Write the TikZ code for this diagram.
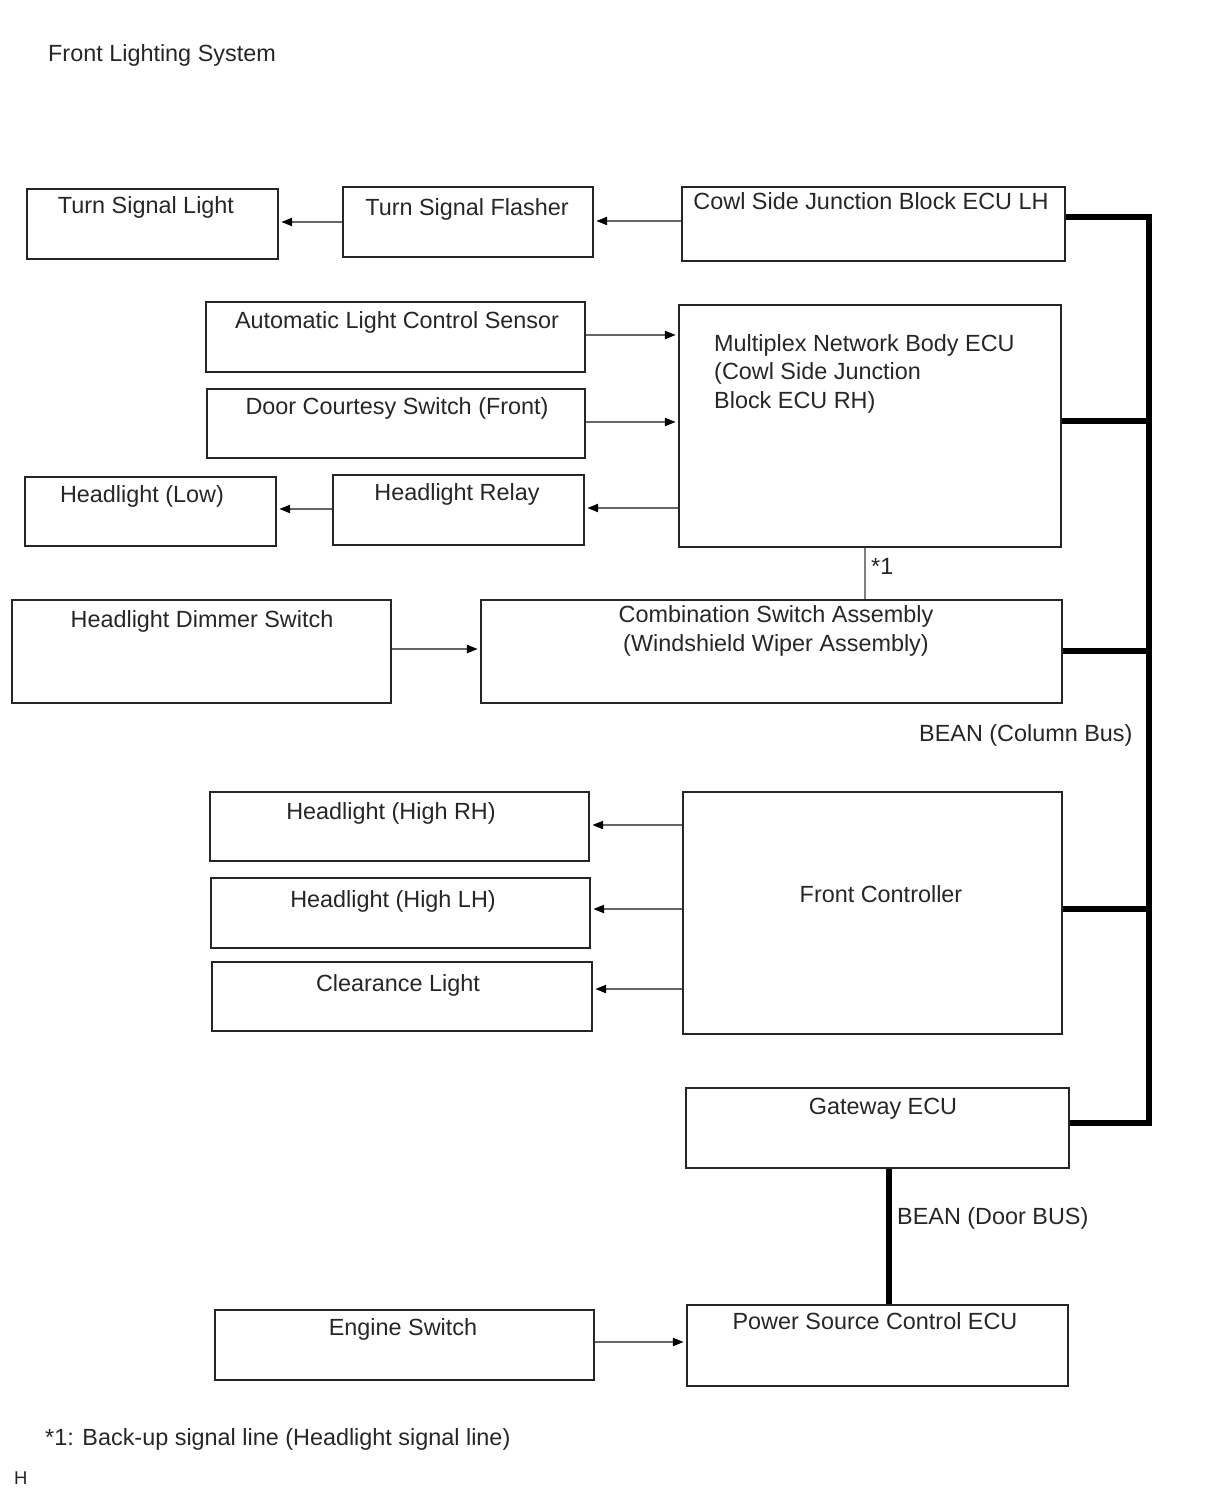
\documentclass[tikz,border=0pt]{standalone}
\usepackage{fontspec}
\setmainfont{Liberation Sans}
\usetikzlibrary{arrows.meta,fit}
\begin{document}
\begin{tikzpicture}[x=1pt,y=-1pt,
  box/.style={draw=black!85,line width=2.4pt,inner sep=0pt},
  txt/.style={font=\fontsize{23.4}{28.5}\selectfont,text=black!85,inner sep=0pt},
  arr/.style={draw=black!60,line width=2.2pt,-{Triangle[length=11pt,width=8pt,color=black]},shorten >=2pt},
  sig/.style={draw=black!50,line width=2.2pt},
  bus/.style={draw=black,line width=5.5pt}]
\useasboundingbox (0,0) rectangle (1210,1498);
% boxes
\node[box,fit={(27,189) (278,259)}] (tsl) {};
\node[box,fit={(343,187) (593,257)}] (tsf) {};
\node[box,fit={(682,187) (1065,261)}] (cowl) {};
\node[box,fit={(206,302) (585,372)}] (alcs) {};
\node[box,fit={(207,389) (585,458)}] (dcs) {};
\node[box,fit={(679,305) (1061,547)}] (mnb) {};
\node[box,fit={(25,477) (276,546)}] (low) {};
\node[box,fit={(333,475) (584,545)}] (rel) {};
\node[box,fit={(12,600) (391,703)}] (dim) {};
\node[box,fit={(481,600) (1062,703)}] (comb) {};
\node[box,fit={(210,792) (589,861)}] (hrh) {};
\node[box,fit={(211,878) (590,948)}] (hlh) {};
\node[box,fit={(212,962) (592,1031)}] (clr) {};
\node[box,fit={(683,792) (1062,1034)}] (fc) {};
\node[box,fit={(686,1088) (1069,1168)}] (gw) {};
\node[box,fit={(687,1305) (1068,1386)}] (psc) {};
\node[box,fit={(215,1310) (594,1380)}] (eng) {};
% texts
\node[txt,anchor=base west] (title) at (48,62) {Front Lighting System};
\node[txt,anchor=base] at (146,213) {Turn Signal Light};
\node[txt,anchor=base] at (467,215) {Turn Signal Flasher};
\node[txt,anchor=base] at (871,209) {Cowl Side Junction Block ECU LH};
\node[txt,anchor=base] at (397,328) {Automatic Light Control Sensor};
\node[txt,anchor=base] at (397,414) {Door Courtesy Switch (Front)};
\node[txt,anchor=base west,align=left] at (714,408) {Multiplex Network Body ECU\\(Cowl Side Junction\\Block ECU RH)};
\node[txt,anchor=base] at (142,502) {Headlight (Low)};
\node[txt,anchor=base] at (457,500) {Headlight Relay};
\node[txt,anchor=base] at (202,627) {Headlight Dimmer Switch};
\node[txt,anchor=base,align=center] at (776,651) {Combination Switch Assembly\\(Windshield Wiper Assembly)};
\node[txt,anchor=base] at (391,819) {Headlight (High RH)};
\node[txt,anchor=base] at (393,907) {Headlight (High LH)};
\node[txt,anchor=base] at (398,991) {Clearance Light};
\node[txt,anchor=base] at (881,902) {Front Controller};
\node[txt,anchor=base] at (883,1114) {Gateway ECU};
\node[txt,anchor=base] at (875,1329) {Power Source Control ECU};
\node[txt,anchor=base] at (403,1335) {Engine Switch};
\node[txt,anchor=base west] (bcol) at (919,741) {BEAN (Column Bus)};
\node[txt,anchor=base west] (bdoor) at (897,1224) {BEAN (Door BUS)};
\node[txt,anchor=base west] (star) at (871,574) {*1};
\node[txt,anchor=base west] (note) at (45,1445) {*1: Back-up signal line (Headlight signal line)};
\node[txt,anchor=base west,font=\fontsize{18.5}{20}\selectfont] (hh) at (14,1484) {H};
% signal arrows
\draw[arr] (cowl.west |- 0,221) -- (tsf.east |- 0,221);
\draw[arr] (tsf.west |- 0,222) -- (tsl.east |- 0,222);
\draw[arr] (alcs.east |- 0,335) -- (mnb.west |- 0,335);
\draw[arr] (dcs.east |- 0,422) -- (mnb.west |- 0,422);
\draw[arr] (mnb.west |- 0,508) -- (rel.east |- 0,508);
\draw[arr] (rel.west |- 0,509) -- (low.east |- 0,509);
\draw[arr] (dim.east |- 0,649) -- (comb.west |- 0,649);
\draw[arr] (fc.west |- 0,825) -- (hrh.east |- 0,825);
\draw[arr] (fc.west |- 0,909) -- (hlh.east |- 0,909);
\draw[arr] (fc.west |- 0,989) -- (clr.east |- 0,989);
\draw[arr] (eng.east |- 0,1342) -- (psc.west |- 0,1342);
\draw[sig] (mnb.south -| 865,0) -- (comb.north -| 865,0);
% bus
\coordinate (bt) at (1149,217);
\coordinate (bb) at (1149,1123);
\draw[bus] (cowl.east |- bt) -- (bt) -- (bb) -- (gw.east |- bb);
\draw[bus] (mnb.east |- 0,421) -- (1149,421);
\draw[bus] (comb.east |- 0,651) -- (1149,651);
\draw[bus] (fc.east |- 0,909) -- (1149,909);
\draw[bus] (gw.south -| 889,0) -- (psc.north -| 889,0);
\end{tikzpicture}
\end{document}
